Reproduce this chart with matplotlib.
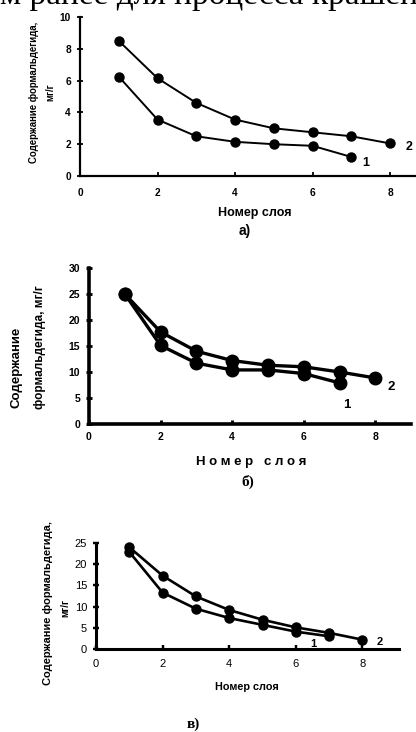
import matplotlib
matplotlib.use("Agg")
import matplotlib.pyplot as plt

W, H = 416, 732
DPI = 100

# ---- data ----
layers_1 = [1, 2, 3, 4, 5, 6, 7]
layers_2 = [1, 2, 3, 4, 5, 6, 7, 8]

a_s1 = [6.25, 3.55, 2.5, 2.15, 2.0, 1.9, 1.2]
a_s2 = [8.5, 6.15, 4.6, 3.55, 3.0, 2.75, 2.5, 2.05]

b_s1 = [25.0, 15.1, 11.7, 10.4, 10.4, 9.7, 7.9]
b_s2 = [25.0, 17.7, 14.0, 12.2, 11.3, 11.0, 10.0, 8.85]

c_s1 = [22.9, 13.3, 9.5, 7.3, 5.7, 4.1, 3.0]
c_s2 = [24.0, 17.3, 12.4, 9.2, 6.9, 5.1, 3.8, 2.2]

x_ticks = [0, 2, 4, 6, 8]
a_yticks = [0, 2, 4, 6, 8, 10]
b_yticks = [0, 5, 10, 15, 20, 25, 30]
c_yticks = [0, 5, 10, 15, 20, 25]

SANS = ["Liberation Sans", "DejaVu Sans"]
SERIF = ["Liberation Serif", "DejaVu Serif"]

fig = plt.figure(figsize=(W / DPI, H / DPI), dpi=DPI)


def px_axes(left, top, right, bottom):
    return fig.add_axes([left / W, 1 - bottom / H, (right - left) / W, (bottom - top) / H])


def style(ax, lw, yticks, xmax, ymax, fs_tick, weight, xpad):
    ax.set_xlim(0, xmax)
    ax.set_ylim(0, ymax)
    for s in ["top", "right"]:
        ax.spines[s].set_visible(False)
    for s in ["left", "bottom"]:
        ax.spines[s].set_linewidth(lw)
    ax.set_xticks(x_ticks)
    ax.set_yticks(yticks)
    ax.tick_params(axis="x", direction="in", length=3, width=lw * 0.8, pad=xpad)
    ax.tick_params(axis="y", direction="inout", length=5, width=lw * 0.8, pad=4)
    for lab in ax.get_xticklabels() + ax.get_yticklabels():
        lab.set_family(SANS)
        lab.set_fontsize(fs_tick)
        lab.set_fontweight(weight)
    ax.patch.set_alpha(0)


# top cut-off text line
fig.text(0.0, 1 - 4 / H, "м ранее для процесса крашени", family=SERIF,
         fontsize=24, va="baseline", ha="left")

# ---- panel a ----
ax = px_axes(80, 17, 80 + 9 * 38.75, 176)
ax.plot(layers_2, a_s2, "-o", color="black", lw=1.4, ms=6.5, clip_on=False)
ax.plot(layers_1, a_s1, "-o", color="black", lw=1.4, ms=6.5, clip_on=False)
style(ax, 1.6, a_yticks, 9, 10, 7.3, "bold", 9)
fig.text(366 / W, 1 - 163 / H, "1", family=SANS, fontsize=9, fontweight="bold", ha="center", va="center")
fig.text(409 / W, 1 - 147 / H, "2", family=SANS, fontsize=9, fontweight="bold", ha="center", va="center")
fig.text(34 / W, 1 - 92 / H, "Содержание формальдегида,", family=SANS, fontsize=6.9,
         fontweight="bold", rotation=90, ha="center", va="center")
fig.text(50 / W, 1 - 92 / H, "мг/г", family=SANS, fontsize=6.9,
         fontweight="bold", rotation=90, ha="center", va="center")
fig.text(255 / W, 1 - 213 / H, "Номер слоя", family=SANS, fontsize=9,
         fontweight="bold", ha="center", va="center")
fig.text(245 / W, 1 - 231 / H, "а)", family=SANS, fontsize=10,
         fontweight="bold", ha="center", va="center")

# ---- panel б ----
ax = px_axes(89, 268, 89 + 9 * 35.8, 424)
ax.plot(layers_2, b_s2, "-o", color="black", lw=2.4, ms=9, clip_on=False)
ax.plot(layers_1, b_s1, "-o", color="black", lw=2.4, ms=9, clip_on=False)
style(ax, 2.6, b_yticks, 9, 30, 7.5, "bold", 6)
fig.text(347 / W, 1 - 405 / H, "1", family=SANS, fontsize=9.5, fontweight="bold", ha="center", va="center")
fig.text(391 / W, 1 - 387 / H, "2", family=SANS, fontsize=9.5, fontweight="bold", ha="center", va="center")
fig.text(17 / W, 1 - 367 / H, "Содержание", family=SANS, fontsize=9.5,
         fontweight="bold", rotation=90, ha="center", va="center")
fig.text(40 / W, 1 - 347 / H, "формальдегида, мг/г", family=SANS, fontsize=8.5,
         fontweight="bold", rotation=90, ha="center", va="center")
fig.text(251 / W, 1 - 462 / H, "Н о м е р   с л о я", family=SANS, fontsize=9.5,
         fontweight="bold", ha="center", va="center")
fig.text(248 / W, 1 - 482 / H, "б)", family=SERIF, fontsize=11,
         fontweight="bold", ha="center", va="center")

# ---- panel в ----
ax = px_axes(96, 543, 96 + 9.1 * 33.3, 649)
ax.plot(layers_2, c_s2, "-o", color="black", lw=1.9, ms=6.5, clip_on=False)
ax.plot(layers_1, c_s1, "-o", color="black", lw=1.9, ms=6.5, clip_on=False)
style(ax, 2.2, c_yticks, 9.1, 25, 8, "normal", 7)
fig.text(313 / W, 1 - 644 / H, "1", family=SANS, fontsize=8, fontweight="bold", ha="center", va="center")
fig.text(380 / W, 1 - 642 / H, "2", family=SANS, fontsize=8, fontweight="bold", ha="center", va="center")
fig.text(48 / W, 1 - 603 / H, "Содержание формальдегида,", family=SANS, fontsize=8,
         fontweight="bold", rotation=90, ha="center", va="center")
fig.text(65 / W, 1 - 608 / H, "мг/г", family=SANS, fontsize=7,
         fontweight="bold", rotation=90, ha="center", va="center")
fig.text(247 / W, 1 - 687 / H, "Номер слоя", family=SANS, fontsize=7.8,
         fontweight="bold", ha="center", va="center")
fig.text(193 / W, 1 - 724 / H, "в)", family=SERIF, fontsize=11,
         fontweight="bold", ha="center", va="center")

fig.savefig("out.png", dpi=DPI)
